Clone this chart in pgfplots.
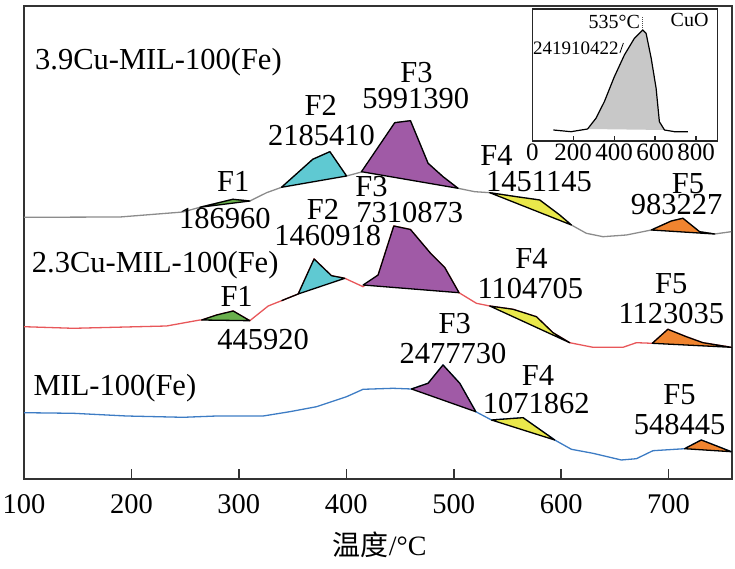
\documentclass[border=0pt]{standalone}
\usepackage{pgfplots}
\pgfplotsset{compat=1.18}
\usepackage{fontspec}
\setmainfont{Liberation Serif}
\newfontfamily\cjk{Noto Sans CJK SC}
\definecolor{cFa}{HTML}{6AB04C}
\definecolor{cFb}{HTML}{5FC9D2}
\definecolor{cFc}{HTML}{A05AA6}
\definecolor{cFd}{HTML}{E9E84B}
\definecolor{cFe}{HTML}{F0842F}
\definecolor{lgray}{HTML}{8C8C8C}
\definecolor{lred}{HTML}{E8575A}
\definecolor{lblue}{HTML}{3D7CC4}
\definecolor{ifill}{HTML}{C8C8C8}
\tikzset{lab/.style={font=\fontsize{30.5}{31}\selectfont, inner sep=0pt},
  poly/.style={draw=black, line width=1.3pt, line join=round}}
\begin{document}
\begin{tikzpicture}
\useasboundingbox (-24pt,-90pt) rectangle (711pt,479pt);
\begin{axis}[at={(0pt,0pt)}, anchor=south west, scale only axis,
  width=708pt, height=473pt, xmin=100, xmax=759, ymin=0, ymax=473,
  xtick={100,200,300,400,500,600,700}, xticklabels={100,200,300,400,500,600,700},
  ytick=\empty, xtick pos=bottom, tick align=inside, major tick length=10pt,
  axis line style={line width=1.6pt, color=black!80},
  every tick/.style={line width=1.6pt, black!80},
  xticklabel style={font=\fontsize{28.5}{30}\selectfont, anchor=center, yshift=-25pt},
  clip=false]
% gray curve
\addplot[lgray, line width=1.3pt] coordinates {(100,261.7) (189.3,262) (247.9,267) (263.7,271.7) (294.4,279.7) (310.2,278) (325.8,286.3) (339.7,291.7) (368.8,319.7) (384.7,327.3) (400.2,303) (415.3,307.3) (445.1,356.3) (459.7,358.3) (476.1,315.7) (490.0,302.3) (504,290.7) (519.5,287.3) (533.5,286.3) (558.3,282.3) (580,279) (598.6,264) (609.5,254) (623.4,245.7) (638.9,242.3) (660.7,244) (683.9,249) (702.5,258) (713.3,260.7) (728.8,247.3) (742.8,245) (758.3,247.3)};
\addplot[poly, fill=cFa] coordinates {(263.7,271.7) (294.4,279.7) (310.2,278)} -- cycle;
\addplot[poly, fill=cFb] coordinates {(339.7,291.7) (368.8,319.7) (384.7,327.3) (400.2,303)} -- cycle;
\addplot[poly, fill=cFc] coordinates {(414.1,307.3) (445.1,356.3) (459.7,358.3) (476.1,315.7) (490.0,302.3) (504,290.7)} -- cycle;
\addplot[poly, fill=cFd] coordinates {(533.5,286.3) (558.3,282.3) (580,279) (598.6,264) (609.5,254)} -- cycle;
\addplot[poly, fill=cFe] coordinates {(683.9,249) (702.5,258) (713.3,260.7) (728.8,247.3) (742.8,245)} -- cycle;
% red curve
\addplot[lred, line width=1.3pt] coordinates {(100,152.3) (145.9,150.7) (232.7,153) (263.7,159) (265.3,159) (279.3,164) (294.7,168) (310.2,158.3) (327.3,173) (339.7,178.3) (355.2,185) (370,220) (386.2,203.3) (398.6,200.7) (415.6,192.3) (429.6,204) (444.2,253) (459.7,249.5) (478.4,225.7) (491.6,211.5) (504.9,186.3) (521.1,175.7) (533.5,173) (555.2,169.7) (576.9,162.3) (592.4,146.3) (607.9,136.3) (629.6,131.7) (657.5,131.7) (670,136.3) (684.8,135.7) (699.3,149.7) (716.4,142.3) (731.9,136.3) (758.3,131.7)};
\addplot[black, line width=1.3pt] coordinates {(339.7,178.3) (355.2,185)};
\addplot[poly, fill=cFa] coordinates {(265.3,159) (279.3,164) (294.7,168) (310.2,158.3)} -- cycle;
\addplot[poly, fill=cFb] coordinates {(355.2,185) (370,220) (386.2,203.3) (398.6,200.7)} -- cycle;
\addplot[poly, fill=cFc] coordinates {(415.6,194) (429.6,204) (444.2,253) (459.7,249.5) (478.4,225.7) (491.6,211.5) (504.9,186.3)} -- cycle;
\addplot[poly, fill=cFd] coordinates {(533.5,173) (555.2,169.7) (576.9,162.3) (592.4,146.3) (607.9,136.3)} -- cycle;
\addplot[poly, fill=cFe] coordinates {(684.8,135.7) (699.3,149.7) (716.4,142.3) (731.9,136.3) (758.3,131.7)} -- cycle;
% blue curve
\addplot[lblue, line width=1.3pt] coordinates {(100,66.3) (145.9,65.7) (195.5,63) (248.2,61.7) (279.3,63) (322.6,63) (347.4,67.3) (372.3,72.3) (400.2,82.3) (415.6,89.7) (443.5,90.7) (460.7,90) (476.1,95.7) (490,114) (505.6,95.7) (520.5,67.3) (535.1,59) (564.5,61.3) (594,39) (609.5,29.7) (629.6,25.7) (656,19) (670,20.3) (685.4,28.3) (714.9,30.3) (730.4,39) (758.3,27.3)};
\addplot[poly, fill=cFc] coordinates {(460.7,90) (476.1,95.7) (490,114) (505.6,95.7) (520.5,67.3)} -- cycle;
\addplot[poly, fill=cFd] coordinates {(535.1,59) (564.5,61.3) (594,39)} -- cycle;
\addplot[poly, fill=cFe] coordinates {(714.9,30.3) (730.4,39) (758.3,27.3)} -- cycle;
% labels
\node[lab, anchor=west] at (axis cs:110.2,417.3) {3.9Cu-MIL-100(Fe)};
\node[lab] at (axis cs:294.7,297.3) {F1};
\node[lab] at (axis cs:287,260.7) {186960};
\node[lab] at (axis cs:376.3,374) {F2};
\node[lab] at (axis cs:377,343.3) {2185410};
\node[lab] at (axis cs:465.3,406) {F3};
\node[lab] at (axis cs:464.7,380) {5991390};
\node[lab] at (axis cs:539.7,324) {F4};
\node[lab] at (axis cs:579.3,297.3) {1451145};
\node[lab] at (axis cs:718,295.7) {F5};
\node[lab] at (axis cs:707.4,274) {983227};
\node[lab, anchor=west] at (axis cs:107.2,214) {2.3Cu-MIL-100(Fe)};
\node[lab] at (axis cs:297.9,182.3) {F1};
\node[lab] at (axis cs:322.6,139) {445920};
\node[lab] at (axis cs:378.4,270) {F2};
\node[lab] at (axis cs:382.8,243) {1460918};
\node[lab] at (axis cs:423.4,292) {F3};
\node[lab] at (axis cs:459.1,266.5) {7310873};
\node[lab] at (axis cs:572.3,220.7) {F4};
\node[lab] at (axis cs:571.3,190.7) {1104705};
\node[lab] at (axis cs:702.5,195.7) {F5};
\node[lab] at (axis cs:702.5,165.7) {1123035};
\node[lab, anchor=west] at (axis cs:108.7,90.7) {MIL-100(Fe)};
\node[lab] at (axis cs:501,155.7) {F3};
\node[lab] at (axis cs:499.4,125.7) {2477730};
\node[lab] at (axis cs:578.4,104) {F4};
\node[lab] at (axis cs:576.9,75.7) {1071862};
\node[lab] at (axis cs:710.2,84) {F5};
\node[lab] at (axis cs:710.2,54) {548445};
\node[font=\fontsize{28}{30}\selectfont, inner sep=0pt] at (axis cs:431,-66) {{\cjk 温度}/°C};
\end{axis}
\begin{axis}[at={(508.3pt,338pt)}, anchor=south west, scale only axis,
  width=185.2pt, height=132pt, xmin=0, xmax=905, ymin=0, ymax=132,
  xtick={0,200,400,600,800}, xticklabels={0,200,400,600,800},
  ytick=\empty, xtick pos=bottom, tick align=inside, major tick length=5pt,
  axis line style={line width=1.5pt, color=black!85},
  every tick/.style={line width=1.2pt, black!85},
  xticklabel style={font=\fontsize{25}{26}\selectfont, anchor=center, yshift=-11pt},
  clip=false,
  axis background/.style={fill=white}]
\addplot[fill=ifill, draw=none] coordinates {(270,12) (311,22.7) (352,39.3) (401,64.3) (450,86) (499,102.7) (540,111) (556,107.7) (581,82.7) (605,52.7) (621,19.3) (646,11)} -- cycle;
\addplot[black, line width=1.2pt] coordinates {(103,11) (189,9.3) (270,12) (311,22.7) (352,39.3) (401,64.3) (450,86) (499,102.7) (540,111) (556,107.7) (581,82.7) (605,52.7) (621,19.3) (646,11) (695,9.3) (760,9.3)};
\addplot[black!70, densely dotted, line width=1pt] coordinates {(540,111) (540,124)};
\addplot[black, line width=0.8pt] coordinates {(428,88) (445,98)};
\node[font=\fontsize{20}{21}\selectfont, inner sep=0pt] at (axis cs:401,119.3) {535°C};
\node[font=\fontsize{20}{21}\selectfont, inner sep=0pt] at (axis cs:768.6,121) {CuO};
\node[font=\fontsize{19}{20}\selectfont, inner sep=0pt] at (axis cs:213,92.7) {241910422};
\end{axis}
\end{tikzpicture}
\end{document}
